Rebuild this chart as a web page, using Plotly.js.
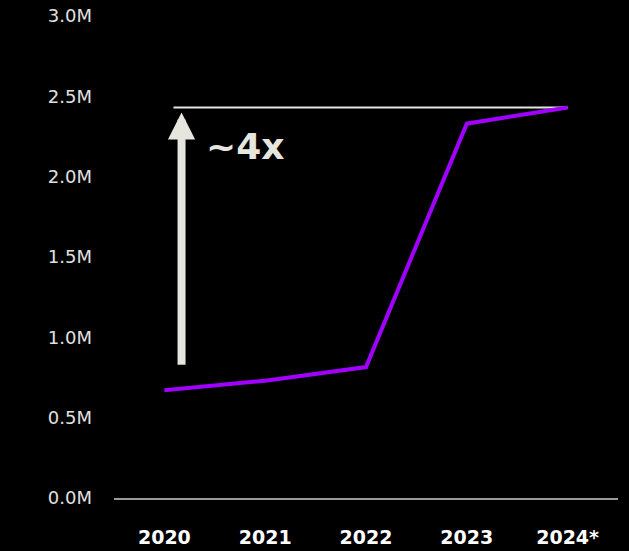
<!DOCTYPE html>
<html>
<head>
<meta charset="utf-8">
<script src="https://cdn.plot.ly/plotly-3.0.1.min.js"></script>
<style>html,body{margin:0;padding:0;background:#000;}#chart{width:629px;height:551px;}</style>
</head>
<body>
<div id="chart"></div>
<script>
// Data (values in millions)
const years = ['2020', '2021', '2022', '2023', '2024*'];
const values = [0.67, 0.73, 0.815, 2.33, 2.43];
const yTickVals = [0, 0.5, 1.0, 1.5, 2.0, 2.5, 3.0];
const yTickText = ['0.0M', '0.5M', '1.0M', '1.5M', '2.0M', '2.5M', '3.0M'];
const refLineX = [0.09, 4];
const refLineY = [2.43, 2.43];
const arrowX = 0.17;
const arrowBottom = 0.82;
const arrowTop = 2.40;
const multLabel = '~4x';

const xIdx = years.map((_, i) => i);

const traces = [
  {
    x: refLineX, y: refLineY, type: 'scatter', mode: 'lines',
    line: {color: '#e6e6de', width: 2}, hoverinfo: 'skip', showlegend: false
  },
  {
    x: xIdx, y: values, type: 'scatter', mode: 'lines',
    line: {color: '#a100ff', width: 4}, showlegend: false
  }
];

const layout = {
  width: 629, height: 551,
  paper_bgcolor: '#000', plot_bgcolor: '#000',
  margin: {l: 114, r: 11, t: 16, b: 53},
  showlegend: false,
  xaxis: {
    range: [-0.5, 4.5], tickvals: xIdx, ticktext: years,
    showgrid: false, zeroline: false, showline: true, linecolor: '#9a9a9a', linewidth: 1.5,
    ticks: '', ticklabelstandoff: 22,
    tickfont: {family: 'DejaVu Sans', size: 19, color: '#ffffff', weight: 'bold'},
    fixedrange: true
  },
  yaxis: {
    range: [0, 3], tickvals: yTickVals, ticktext: yTickText,
    showgrid: false, zeroline: false, showline: false, ticks: '',
    ticklabelstandoff: 21,
    tickfont: {family: 'DejaVu Sans', size: 18, color: '#e0e0e0'},
    fixedrange: true
  },
  annotations: [
    {
      x: arrowX, y: arrowTop, ax: arrowX, ay: arrowBottom,
      xref: 'x', yref: 'y', axref: 'x', ayref: 'y',
      text: '', showarrow: true, arrowhead: 2, arrowsize: 0.68, arrowwidth: 8,
      arrowcolor: '#e6e6de'
    },
    {
      x: 0.39, y: 2.19, xref: 'x', yref: 'y', xanchor: 'left', yanchor: 'middle',
      text: multLabel, showarrow: false,
      font: {family: 'DejaVu Sans', size: 36, color: '#e6e6de', weight: 'bold'}
    }
  ]
};

Plotly.newPlot('chart', traces, layout, {displayModeBar: false, staticPlot: true});
</script>
</body>
</html>
